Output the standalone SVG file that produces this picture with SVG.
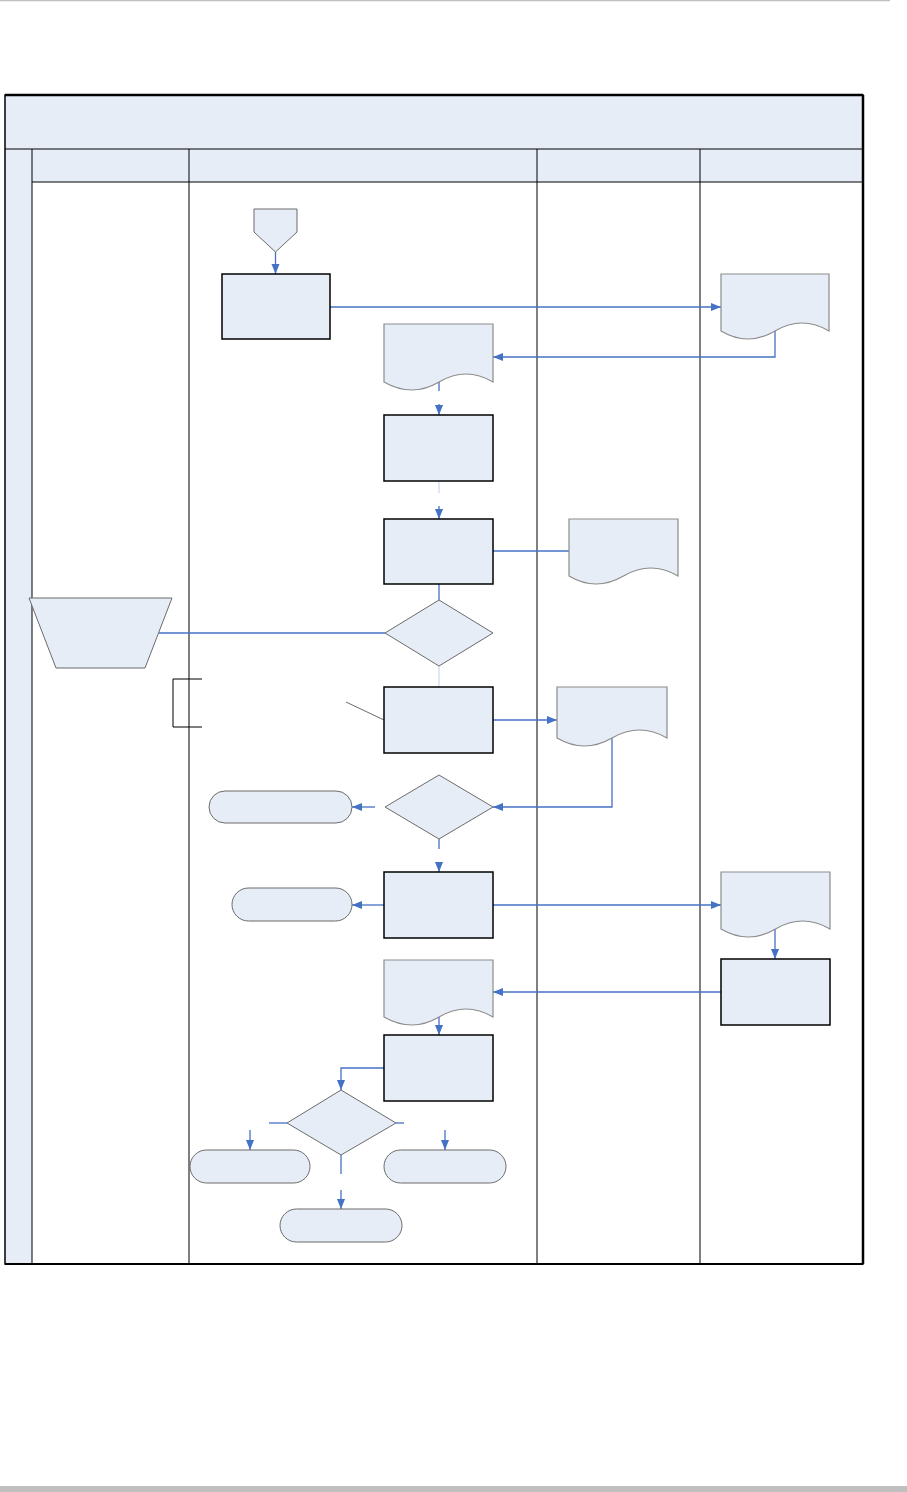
<svg xmlns="http://www.w3.org/2000/svg" width="907" height="1492" viewBox="0 0 907 1492">
<style>
.fill{fill:#E6EDF7}
.box{fill:#E6EDF7;stroke:#000;stroke-width:1.5}
.shp{fill:#E6EDF7;stroke:#6b6b6b;stroke-width:1}
.doc{fill:#E6EDF7;stroke:#8c8c8c;stroke-width:1.2}
.grid{stroke:#000;stroke-width:1;fill:none}
.con{stroke:#4472C4;stroke-width:1.3;fill:none}
.arr{marker-end:url(#ah)}
.faint{stroke:#D5E0F1;stroke-width:1.5;fill:none}
</style>
<defs>
<marker id="ah" markerUnits="userSpaceOnUse" markerWidth="10" markerHeight="10" viewBox="0 0 10 10" refX="10" refY="5" orient="auto">
<path d="M0,1 L10,5 L0,9 Z" fill="#4472C4"/>
</marker>
</defs>
<rect x="0" y="1486" width="907" height="6" fill="#BFBFBF"/>
<line x1="0" y1="0.5" x2="890" y2="0.5" stroke="#BFBFBF" stroke-width="1.5"/>
<g id="frame">
<rect class="fill" x="5" y="95" width="858" height="87"/>
<rect class="fill" x="5" y="149" width="27" height="1115"/>
<line class="grid" x1="5" y1="149" x2="863" y2="149"/>
<line class="grid" x1="32" y1="182" x2="863" y2="182"/>
<line class="grid" x1="32" y1="149" x2="32" y2="1264"/>
<line class="grid" x1="189" y1="149" x2="189" y2="1264"/>
<line class="grid" x1="537" y1="149" x2="537" y2="1264"/>
<line class="grid" x1="700" y1="149" x2="700" y2="1264"/>
<rect x="5" y="95" width="858" height="1169" fill="none" stroke="#000" stroke-width="1.5"/>
<line x1="5" y1="95" x2="863" y2="95" stroke="#000" stroke-width="2.5"/>
<line x1="863" y1="95" x2="863" y2="1264" stroke="#000" stroke-width="2.5"/>
<line x1="5" y1="1264" x2="863" y2="1264" stroke="#000" stroke-width="2"/>
</g>
<g id="connectors">
<line class="con arr" x1="275.5" y1="252" x2="275.5" y2="274"/>
<line class="con arr" x1="330" y1="307" x2="721" y2="307"/>
<polyline class="con arr" points="775,331 775,357 493,357"/>
<line class="con" x1="439" y1="382" x2="439" y2="391"/>
<line class="con arr" x1="439" y1="404" x2="439" y2="415"/>
<line class="faint" x1="439" y1="481" x2="439" y2="493"/>
<line class="con arr" x1="439" y1="506" x2="439" y2="519"/>
<line class="con" x1="493" y1="551" x2="569" y2="551"/>
<line class="con" x1="439" y1="584" x2="439" y2="600"/>
<line class="con" x1="159" y1="633" x2="385" y2="633"/>
<line class="faint" x1="439" y1="666" x2="439" y2="687"/>
<line x1="346" y1="702" x2="384" y2="720" stroke="#6b6b6b" stroke-width="1"/>
<line class="con arr" x1="493" y1="720" x2="557" y2="720"/>
<polyline class="con arr" points="612,738 612,807 493,807"/>
<line class="con arr" x1="375" y1="807" x2="352" y2="807"/>
<line class="con" x1="439" y1="839" x2="439" y2="849"/>
<line class="con arr" x1="439" y1="862" x2="439" y2="872"/>
<line class="con arr" x1="384" y1="905" x2="352" y2="905"/>
<line class="con arr" x1="493" y1="905" x2="721" y2="905"/>
<line class="con arr" x1="775" y1="929" x2="775" y2="959"/>
<line class="con arr" x1="721" y1="992" x2="493" y2="992"/>
<line class="con arr" x1="439" y1="1017" x2="439" y2="1035"/>
<polyline class="con arr" points="384,1068 341,1068 341,1090"/>
<line class="con" x1="287" y1="1123" x2="269" y2="1123"/>
<line class="con" x1="396" y1="1123" x2="404" y2="1123"/>
<line class="con arr" x1="250" y1="1130" x2="250" y2="1150"/>
<line class="con arr" x1="445" y1="1130" x2="445" y2="1150"/>
<line class="con" x1="341" y1="1155" x2="341" y2="1174"/>
<line class="con arr" x1="341" y1="1190" x2="341" y2="1209"/>
</g>
<g id="start"><path class="shp" d="M254,209 H297 V232 L275.5,252 L254,232 Z"/></g>
<g id="rect1"><rect class="box" x="222" y="274" width="108" height="65"/></g>
<g id="doc1"><path class="doc" d="M721,274 H829 V331 Q802,315 775,331 T721,331 Z"/></g>
<g id="doc2"><path class="doc" d="M384,324 H493 V382 Q466,366 439,382 T384,382 Z"/></g>
<g id="rect2"><rect class="box" x="384" y="415" width="109" height="66"/></g>
<g id="rect3"><rect class="box" x="384" y="519" width="109" height="65"/></g>
<g id="doc3"><path class="doc" d="M569,519 H678 V576 Q651,560 623.5,576 T569,576 Z"/></g>
<g id="diamond1"><path class="shp" d="M439,600 L493,633 L439,666 L385,633 Z"/></g>
<g id="manual"><path class="shp" d="M29,598 H172 L145,668 H56 Z"/></g>
<g id="rect4"><rect class="box" x="384" y="687" width="109" height="66"/></g>
<g id="annotation"><path d="M202,679 H173 V727 H202" fill="none" stroke="#000" stroke-width="1"/></g>
<g id="doc4"><path class="doc" d="M557,687 H667 V738 Q639.5,722 612,738 T557,738 Z"/></g>
<g id="diamond2"><path class="shp" d="M439,775 L493,807 L439,839 L385,807 Z"/></g>
<g id="term1"><rect class="shp" x="209" y="791" width="143" height="32" rx="16"/></g>
<g id="rect5"><rect class="box" x="384" y="872" width="109" height="66"/></g>
<g id="term2"><rect class="shp" x="232" y="888" width="120" height="33" rx="16.5"/></g>
<g id="doc5"><path class="doc" d="M721,872 H830 V929 Q802.5,913 775.5,929 T721,929 Z"/></g>
<g id="rect6"><rect class="box" x="721" y="959" width="109" height="66"/></g>
<g id="doc6"><path class="doc" d="M384,960 H493 V1017 Q466,1001 439,1017 T384,1017 Z"/></g>
<g id="rect7"><rect class="box" x="384" y="1035" width="109" height="66"/></g>
<g id="diamond3"><path class="shp" d="M341,1090 L396,1123 L341,1155 L287,1123 Z"/></g>
<g id="term3"><rect class="shp" x="190" y="1150" width="120" height="33" rx="16.5"/></g>
<g id="term4"><rect class="shp" x="384" y="1150" width="122" height="33" rx="16.5"/></g>
<g id="term5"><rect class="shp" x="280" y="1209" width="122" height="33" rx="16.5"/></g>
</svg>
